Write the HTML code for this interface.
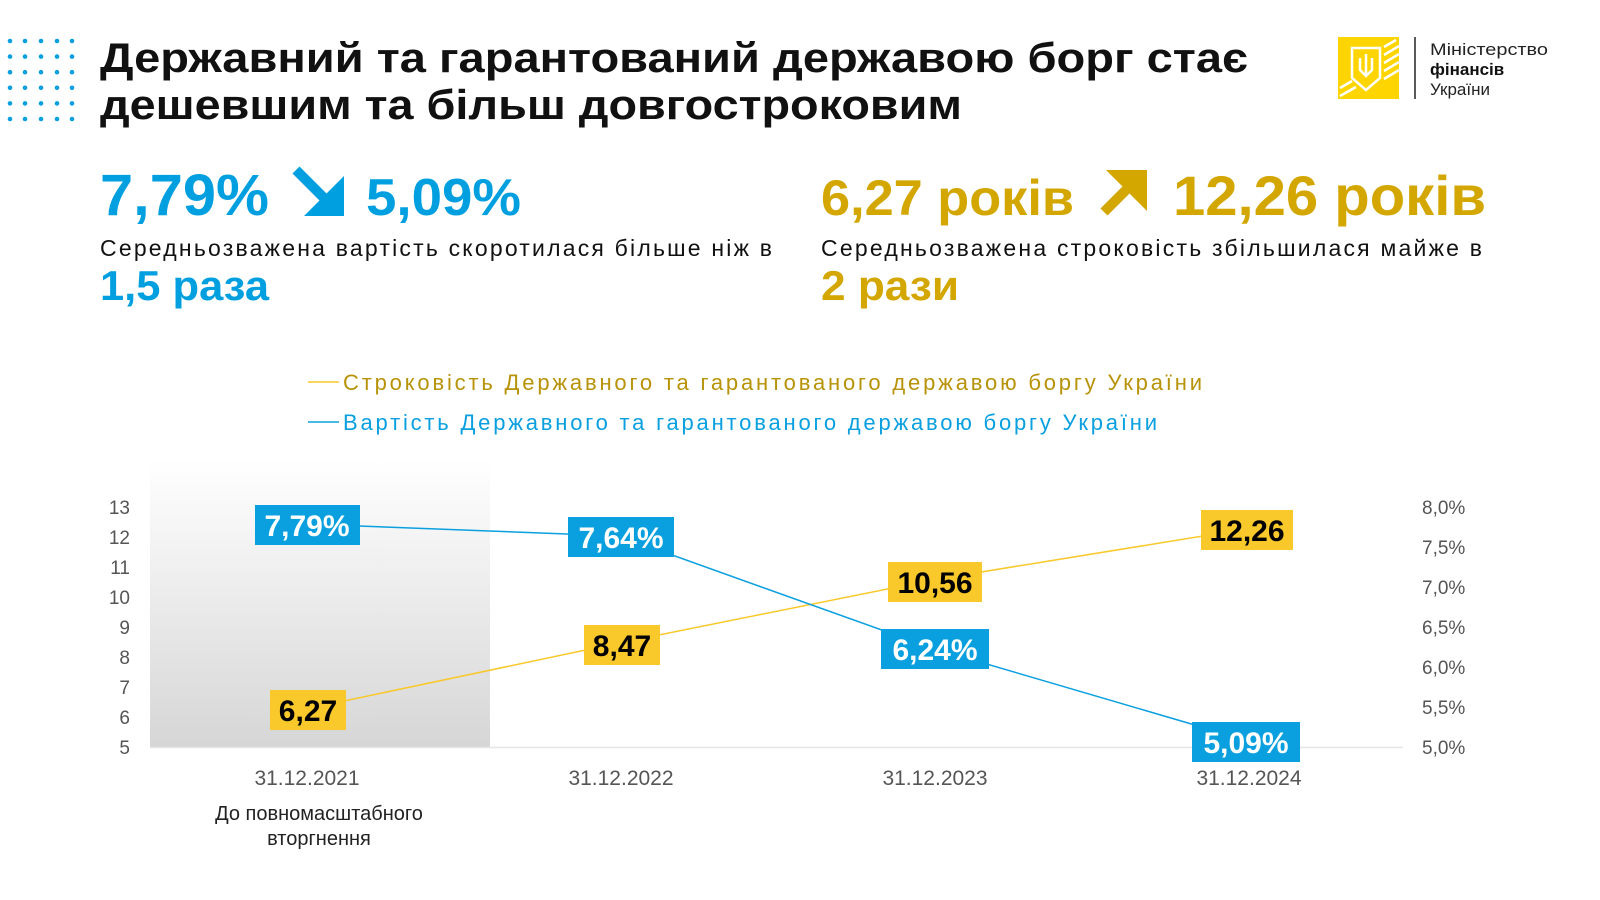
<!DOCTYPE html>
<html><head><meta charset="utf-8"><style>
html,body{margin:0;padding:0;background:#fff;width:1600px;height:900px;overflow:hidden}
svg{display:block}
text{font-family:"Liberation Sans","DejaVu Sans",sans-serif}
</style></head><body>
<svg width="1600" height="900" viewBox="0 0 1600 900" xmlns="http://www.w3.org/2000/svg">
<defs>
<linearGradient id="g" x1="0" y1="0" x2="0" y2="1">
<stop offset="0" stop-color="#ffffff"/><stop offset="1" stop-color="#d6d6d6"/>
</linearGradient>
</defs>
<g fill="#0aa0e0">
<g id="row"><circle cx="10" cy="41" r="2.3"/><circle cx="25" cy="41" r="2.3"/><circle cx="41" cy="41" r="2.3"/><circle cx="57" cy="41" r="2.3"/><circle cx="72" cy="41" r="2.3"/></g>
<use href="#row" y="15.6"/><use href="#row" y="31.2"/><use href="#row" y="46.8"/><use href="#row" y="62.4"/><use href="#row" y="78"/>
</g>
<text x="100" y="72" font-size="42" font-weight="bold" fill="#111" textLength="1148" lengthAdjust="spacingAndGlyphs">Державний та гарантований державою борг стає</text>
<text x="100" y="119" font-size="42" font-weight="bold" fill="#111" textLength="862" lengthAdjust="spacingAndGlyphs">дешевшим та більш довгостроковим</text>
<rect x="1338" y="37" width="61" height="62" fill="#FFD500"/>
<g stroke="#fff" stroke-width="2.5" fill="none">
<path d="M1352 48 h28 v30 l-14 12 l-14 -12 z"/>
<line x1="1384" y1="47" x2="1396" y2="40"/><line x1="1384" y1="55" x2="1399" y2="46"/><line x1="1384" y1="63" x2="1399" y2="54"/><line x1="1384" y1="71" x2="1399" y2="62"/><line x1="1384" y1="79" x2="1399" y2="70"/>
<line x1="1340" y1="88" x2="1352" y2="81"/><line x1="1340" y1="96" x2="1356" y2="87"/>
<path d="M1366 54 v22 M1360 58 v12 l6 6 l6 -6 v-12"/>
</g>
<line x1="1415" y1="37" x2="1415" y2="99" stroke="#222" stroke-width="1.5"/>
<text x="1430" y="55" font-size="17" fill="#222" textLength="118" lengthAdjust="spacingAndGlyphs">Міністерство</text>
<text x="1430" y="75" font-size="17" font-weight="bold" fill="#111">фінансів</text>
<text x="1430" y="95" font-size="17" fill="#222">України</text>
<g fill="#009FDF" font-weight="bold">
<text x="100" y="215" font-size="58" textLength="169" lengthAdjust="spacingAndGlyphs">7,79%</text>
<text x="366" y="215" font-size="52" textLength="155" lengthAdjust="spacingAndGlyphs">5,09%</text>
<text x="100" y="300" font-size="42" textLength="169" lengthAdjust="spacingAndGlyphs">1,5 раза</text>
<path d="M296 170 L338 212" stroke="#009FDF" stroke-width="10"/>
<polygon points="344,176 344,216 304,216"/>
</g>
<text x="100" y="256" font-size="23" fill="#111" textLength="672" lengthAdjust="spacing">Середньозважена вартість скоротилася більше ніж в</text>
<g fill="#D4A600" font-weight="bold">
<text x="821" y="215" font-size="50" textLength="253" lengthAdjust="spacingAndGlyphs">6,27 років</text>
<text x="1173" y="215" font-size="56" textLength="313" lengthAdjust="spacingAndGlyphs">12,26 років</text>
<text x="821" y="300" font-size="42" textLength="138" lengthAdjust="spacingAndGlyphs">2 рази</text>
<path d="M1104 212 L1140 176" stroke="#D4A600" stroke-width="10"/>
<polygon points="1106,170 1147,170 1147,211"/>
</g>
<text x="821" y="256" font-size="23" fill="#111" textLength="661" lengthAdjust="spacing">Середньозважена строковість збільшилася майже в</text>
<line x1="308" y1="382" x2="339" y2="382" stroke="#F9C82A" stroke-width="1.5"/>
<text x="343" y="390" font-size="22" fill="#B8930A" textLength="859" lengthAdjust="spacing">Строковість Державного та гарантованого державою боргу України</text>
<line x1="308" y1="422" x2="339" y2="422" stroke="#0AA0E0" stroke-width="1.5"/>
<text x="343" y="430" font-size="22" fill="#0AA0E0" textLength="814" lengthAdjust="spacing">Вартість Державного та гарантованого державою боргу України</text>
<rect x="150" y="460" width="340" height="287" fill="url(#g)"/>
<line x1="150" y1="747.5" x2="1403" y2="747.5" stroke="#e6e6e6" stroke-width="1.5"/>
<g font-size="19" fill="#555" text-anchor="end">
<text x="130" y="514">13</text><text x="130" y="544">12</text><text x="130" y="574">11</text><text x="130" y="604">10</text><text x="130" y="634">9</text><text x="130" y="664">8</text><text x="130" y="694">7</text><text x="130" y="724">6</text><text x="130" y="754">5</text>
</g>
<g font-size="19" fill="#555">
<text x="1422" y="514">8,0%</text><text x="1422" y="554">7,5%</text><text x="1422" y="594">7,0%</text><text x="1422" y="634">6,5%</text><text x="1422" y="674">6,0%</text><text x="1422" y="714">5,5%</text><text x="1422" y="754">5,0%</text>
</g>
<polyline points="306,709 619,643 932,580 1246,529" fill="none" stroke="#F9C82A" stroke-width="1.5"/>
<polyline points="306,524 619,536 932,648 1246,740" fill="none" stroke="#0AA0E0" stroke-width="1.5"/>
<g font-size="30" font-weight="bold" text-anchor="middle">
<rect x="255" y="505" width="105" height="40" fill="#0AA0E0"/><text x="307" y="536" fill="#fff">7,79%</text>
<rect x="568" y="517" width="106" height="40" fill="#0AA0E0"/><text x="621" y="548" fill="#fff">7,64%</text>
<rect x="881" y="629" width="108" height="40" fill="#0AA0E0"/><text x="935" y="660" fill="#fff">6,24%</text>
<rect x="1192" y="722" width="108" height="40" fill="#0AA0E0"/><text x="1246" y="753" fill="#fff">5,09%</text>
<rect x="270" y="690" width="76" height="40" fill="#F9C82A"/><text x="308" y="721" fill="#000">6,27</text>
<rect x="584" y="625" width="76" height="40" fill="#F9C82A"/><text x="622" y="656" fill="#000">8,47</text>
<rect x="888" y="562" width="94" height="40" fill="#F9C82A"/><text x="935" y="593" fill="#000">10,56</text>
<rect x="1201" y="510" width="92" height="40" fill="#F9C82A"/><text x="1247" y="541" fill="#000">12,26</text>
</g>
<g font-size="21" fill="#555" text-anchor="middle">
<text x="307" y="785">31.12.2021</text><text x="621" y="785">31.12.2022</text><text x="935" y="785">31.12.2023</text><text x="1249" y="785">31.12.2024</text>
</g>
<g font-size="20" fill="#222" text-anchor="middle">
<text x="319" y="820">До повномасштабного</text><text x="319" y="845">вторгнення</text>
</g>
</svg>
</body></html>
